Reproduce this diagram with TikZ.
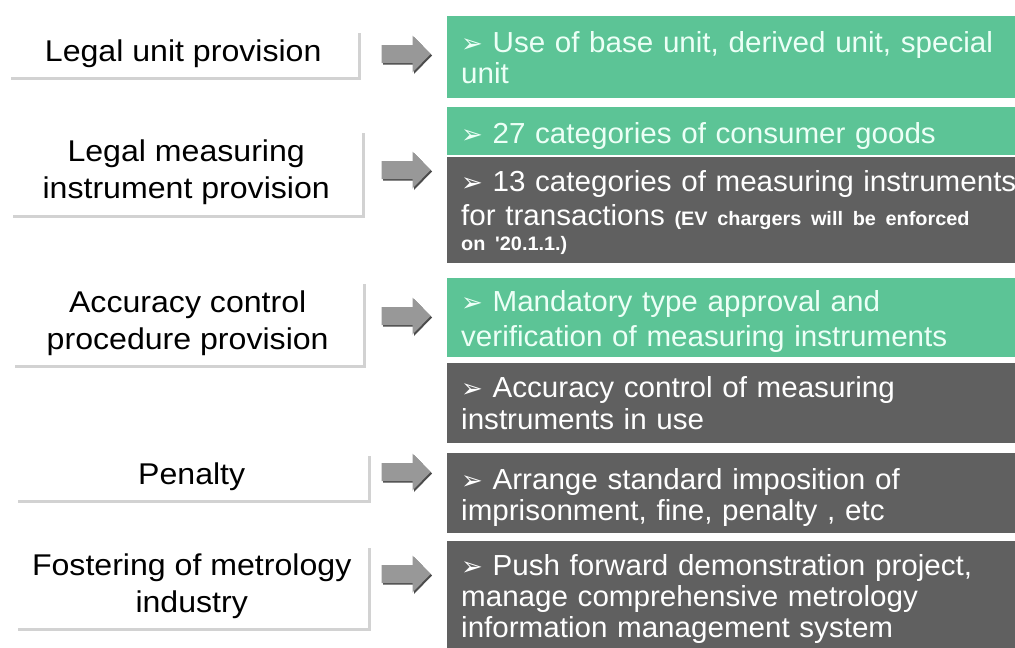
\documentclass[tikz,border=0pt]{standalone}
\usepackage{fontspec}
\setmainfont{Liberation Sans}
\newfontfamily\topicfont[FakeStretch=1.07]{Liberation Sans}
\newfontfamily\detailfont[FakeStretch=1.02]{Liberation Sans}
\newfontfamily\symfont{DejaVu Sans}
\usetikzlibrary{shadows,positioning}
\definecolor{mintGreen}{RGB}{92,196,150}
\definecolor{slateGray}{RGB}{96,96,96}
\definecolor{mintText}{RGB}{236,255,246}
\definecolor{arrowGray}{RGB}{152,152,152}
\newcommand{\itemmark}{{\symfont\fontsize{26}{26}\selectfont ➢}\ }
\newcommand{\notetext}[1]{{\bfseries\fontsize{19.5}{22}\selectfont #1}}

\begin{document}
\begin{tikzpicture}[x=1pt,y=-1pt,
          topic/.style={anchor=north west, fill=white, align=center, inner sep=0pt,
            font=\topicfont\fontsize{30}{37}\selectfont,
            drop shadow={shadow xshift=2.5pt, shadow yshift=-2.5pt, fill=black!35}},
          detail/.style={anchor=north west, text width=600pt, align=left,
            inner xsep=14pt, inner ysep=0pt, font=\detailfont\fontsize{29}{31}\selectfont},
          greenbox/.style={detail, fill=mintGreen, text=mintText},
          graybox/.style={detail, fill=slateGray, text=white},
          push/.style={execute at begin node={\rule{0pt}{#1}}},
          pointer/.pic={
            \fill[black!70] (-23,-7.5) -- (8,-7.5) -- (8,-17) -- (26,1.5) -- (8,20) -- (8,10.5) -- (-23,10.5) -- cycle;
            \fill[arrowGray] (-24.5,-9) -- (6.5,-9) -- (6.5,-18.5) -- (24.5,0) -- (6.5,18.5) -- (6.5,9) -- (-24.5,9) -- cycle;
          }
        ]
          \useasboundingbox (0,0) rectangle (1015,648);
          \fill[white] (0,0) rectangle (1015,648);
          \node[topic, minimum width=350pt, minimum height=47pt] (l1) at (8,30) {Legal unit provision};
          \node[topic, minimum width=352pt, minimum height=85pt] (l2) at (10,130) {Legal measuring\\instrument provision};
          \node[topic, minimum width=351pt, minimum height=84pt] (l3) at (12,281) {Accuracy control\\procedure provision};
          \node[topic, minimum width=353pt, minimum height=47pt] (l4) at (15,453) {Penalty};
          \node[topic, minimum width=353pt, minimum height=83pt] (l5) at (15,545) {Fostering of metrology\\industry};
          \node[greenbox, minimum height=82pt] (g1) at (447,16) {\itemmark Use of base unit, derived unit, special\\unit};
          \node[greenbox, push=31pt, minimum height=48pt] (g2) at (447,107) {\itemmark 27 categories of consumer goods};
          \node[graybox, push=25pt, minimum height=106pt] (d1) at (447,157) {\itemmark 13 categories of measuring instruments\\[3pt]for transactions \notetext{(EV chargers will be enforced}\\[-6pt]\notetext{on '20.1.1.)}};
          \node[greenbox, push=29pt, minimum height=79pt] (g3) at (447,278) {\itemmark Mandatory type approval and\\[4pt]verification of measuring instruments};
          \node[graybox, minimum height=80pt] (d2) at (447,363) {\itemmark Accuracy control of measuring\\[1pt]instruments in use};
          \node[graybox, push=29pt, minimum height=80pt] (d3) at (447,453) {\itemmark Arrange standard imposition of\\imprisonment, fine, penalty , etc};
          \node[graybox, minimum height=115pt] (d4) at (447,541) {\itemmark Push forward demonstration project,\\manage comprehensive metrology\\information management system};
          \pic (a1) at (406,54) {pointer};
          \pic (a2) at (406,170) {pointer};
          \pic (a3) at (406,316) {pointer};
          \pic (a4) at (406,472) {pointer};
          \pic (a5) at (406,574) {pointer};
        \end{tikzpicture}
\end{document}
